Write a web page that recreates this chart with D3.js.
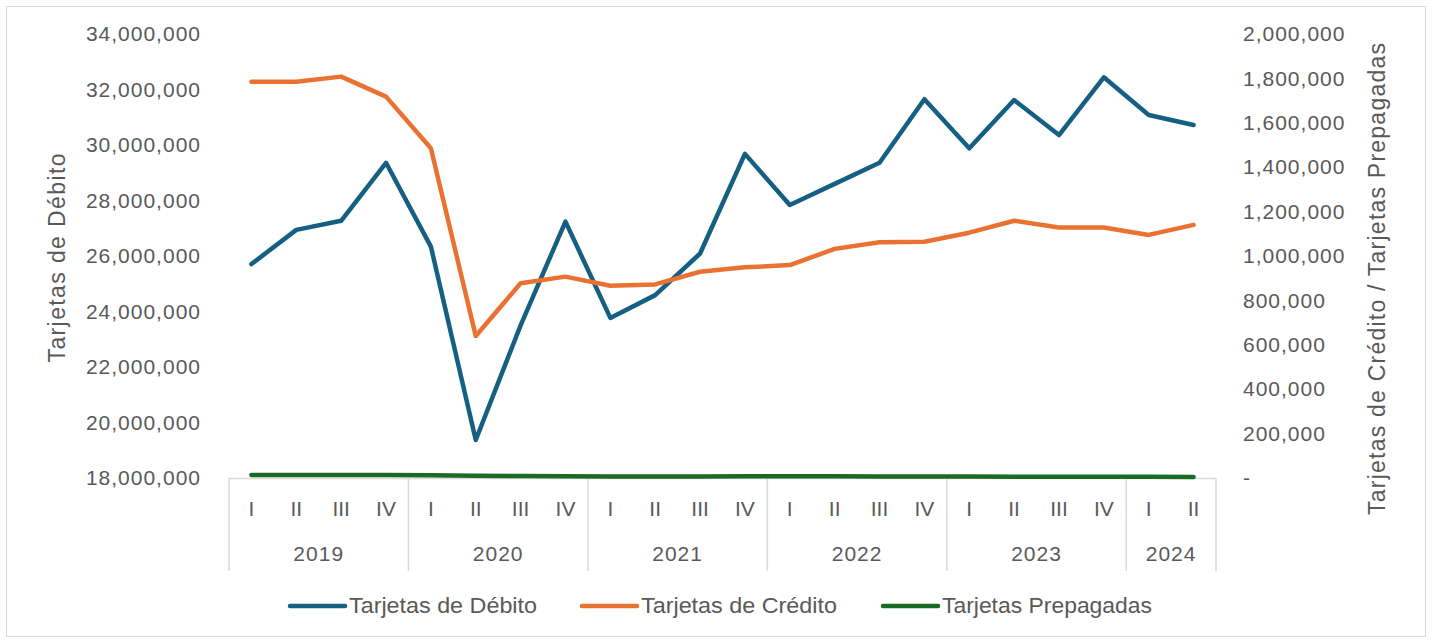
<!DOCTYPE html>
<html>
<head>
<meta charset="utf-8">
<script src="https://cdn.jsdelivr.net/npm/d3@7"></script>
<style>
  body { margin: 0; background: #fff; }
  svg text { font-family: "Liberation Sans", Arial, sans-serif; fill: #595959; }
</style>
</head>
<body>
<div id="graph"></div>
<script>
// quarterly data, 2019-I to 2024-II
var quarters = ["I","II","III","IV","I","II","III","IV","I","II","III","IV",
                "I","II","III","IV","I","II","III","IV","I","II"];
var years = ["2019","2020","2021","2022","2023","2024"];
var quartersPerYear = [4, 4, 4, 4, 4, 2];

var debito = [25710000, 26940000, 27270000, 29360000, 26340000, 19370000, 23500000, 27240000,
              23770000, 24590000, 26090000, 29680000, 27840000, 28600000, 29360000, 31650000,
              29880000, 31620000, 30360000, 32440000, 31080000, 30720000];
var credito = [1785000, 1785000, 1808000, 1718000, 1485000, 640000, 877000, 907000,
               866000, 872000, 929000, 949000, 959000, 1032000, 1062000, 1064000,
               1105000, 1159000, 1128000, 1128000, 1095000, 1140000];
var prepagadas = [14000, 13000, 13000, 14000, 12000, 10000, 9000, 8000,
                  7000, 7000, 7000, 8000, 8000, 8000, 7000, 7000,
                  7000, 6000, 6000, 6000, 6000, 5000];

var leftTicks = [18e6, 20e6, 22e6, 24e6, 26e6, 28e6, 30e6, 32e6, 34e6];
var rightTicks = [0, 2e5, 4e5, 6e5, 8e5, 1e6, 1.2e6, 1.4e6, 1.6e6, 1.8e6, 2e6];

var series = [
    {name: "Tarjetas de Débito", values: debito, axis: "left", color: "#156082"},
    {name: "Tarjetas de Crédito", values: credito, axis: "right", color: "#E97132"},
    {name: "Tarjetas Prepagadas", values: prepagadas, axis: "right", color: "#196B24"}
];

var W = 1432, H = 643;
var plot = {left: 229, right: 1216, top: 34, bottom: 478};

var svg = d3.select("#graph").append("svg")
    .attr("width", W)
    .attr("height", H);

// outer frame
svg.append("rect")
    .attr("x", 6.5).attr("y", 6.5)
    .attr("width", 1419).attr("height", 630)
    .attr("fill", "none")
    .attr("stroke", "#d9d9d9");

var x = d3.scaleBand()
    .domain(d3.range(quarters.length))
    .range([plot.left, plot.right]);
var xc = function(i) { return x(i) + x.bandwidth() / 2; };

var yL = d3.scaleLinear().domain([18e6, 34e6]).range([plot.bottom, plot.top]);
var yR = d3.scaleLinear().domain([0, 2e6]).range([plot.bottom, plot.top]);

var fmt = d3.format(",");

// left axis
var gL = svg.append("g")
    .attr("transform", "translate(" + (plot.left - 14) + ",0)")
    .call(d3.axisLeft(yL).tickValues(leftTicks).tickSize(0).tickPadding(14).tickFormat(fmt));
gL.select(".domain").remove();
gL.selectAll("text")
    .style("font-size", "21px")
    .style("letter-spacing", "1px")
    .attr("fill", "#595959");

// right axis
var gR = svg.append("g")
    .attr("transform", "translate(" + (plot.right + 13) + ",0)")
    .call(d3.axisRight(yR).tickValues(rightTicks).tickSize(0).tickPadding(14)
        .tickFormat(function(d) { return d === 0 ? "-" : fmt(d); }));
gR.select(".domain").remove();
gR.selectAll("text")
    .style("font-size", "21px")
    .style("letter-spacing", "1px")
    .attr("fill", "#595959");

// axis titles
svg.append("text")
    .attr("transform", "translate(65,258) rotate(-90)")
    .attr("text-anchor", "middle")
    .attr("textLength", 209)
    .style("font-size", "23px")
    .text("Tarjetas de Débito");

svg.append("text")
    .attr("transform", "translate(1385,279) rotate(-90)")
    .attr("text-anchor", "middle")
    .attr("textLength", 472)
    .style("font-size", "23px")
    .text("Tarjetas de Crédito / Tarjetas Prepagadas");

// category axis: horizontal line + year separators
var catG = svg.append("g");
catG.append("line")
    .attr("x1", plot.left).attr("x2", plot.right)
    .attr("y1", plot.bottom + 0.5).attr("y2", plot.bottom + 0.5)
    .attr("stroke", "#d9d9d9").attr("stroke-width", 1.5);

var bounds = [0];
quartersPerYear.forEach(function(n, i) { bounds.push(bounds[i] + n); });

catG.selectAll("line.sep")
    .data(bounds)
    .enter().append("line")
    .attr("class", "sep")
    .attr("x1", function(b) { return b < quarters.length ? x(b) : plot.right; })
    .attr("x2", function(b) { return b < quarters.length ? x(b) : plot.right; })
    .attr("y1", plot.bottom)
    .attr("y2", 571)
    .attr("stroke", "#d9d9d9").attr("stroke-width", 1.5);

catG.selectAll("text.q")
    .data(quarters)
    .enter().append("text")
    .attr("class", "q")
    .attr("x", function(d, i) { return xc(i); })
    .attr("y", 516)
    .attr("text-anchor", "middle")
    .style("font-size", "21px")
    .text(function(d) { return d; });

catG.selectAll("text.yr")
    .data(years)
    .enter().append("text")
    .attr("class", "yr")
    .attr("x", function(d, i) {
        var a = x(bounds[i]);
        var b = bounds[i + 1] < quarters.length ? x(bounds[i + 1]) : plot.right;
        return (a + b) / 2;
    })
    .attr("y", 561)
    .attr("text-anchor", "middle")
    .style("font-size", "21px")
    .style("letter-spacing", "1px")
    .text(function(d) { return d; });

// lines
series.forEach(function(s) {
    var yy = s.axis === "left" ? yL : yR;
    var line = d3.line()
        .x(function(d, i) { return xc(i); })
        .y(function(d) { return yy(d); });
    svg.append("path")
        .datum(s.values)
        .attr("d", line)
        .attr("fill", "none")
        .attr("stroke", s.color)
        .attr("stroke-width", 4.5)
        .attr("stroke-linecap", "round")
        .attr("stroke-linejoin", "round");
});

// legend
var legendX = [290, 582, 883];
var legendW = [188, 196, 210];
var leg = svg.append("g");
series.forEach(function(s, i) {
    leg.append("line")
        .attr("x1", legendX[i]).attr("x2", legendX[i] + 55)
        .attr("y1", 606).attr("y2", 606)
        .attr("stroke", s.color)
        .attr("stroke-width", 4.5)
        .attr("stroke-linecap", "round");
    leg.append("text")
        .attr("x", legendX[i] + 59)
        .attr("y", 613)
        .attr("textLength", legendW[i])
        .attr("lengthAdjust", "spacingAndGlyphs")
        .style("font-family", "'Liberation Sans Narrow', 'Liberation Sans', sans-serif")
        .style("font-size", "22px")
        .text(s.name);
});
</script>
</body>
</html>
